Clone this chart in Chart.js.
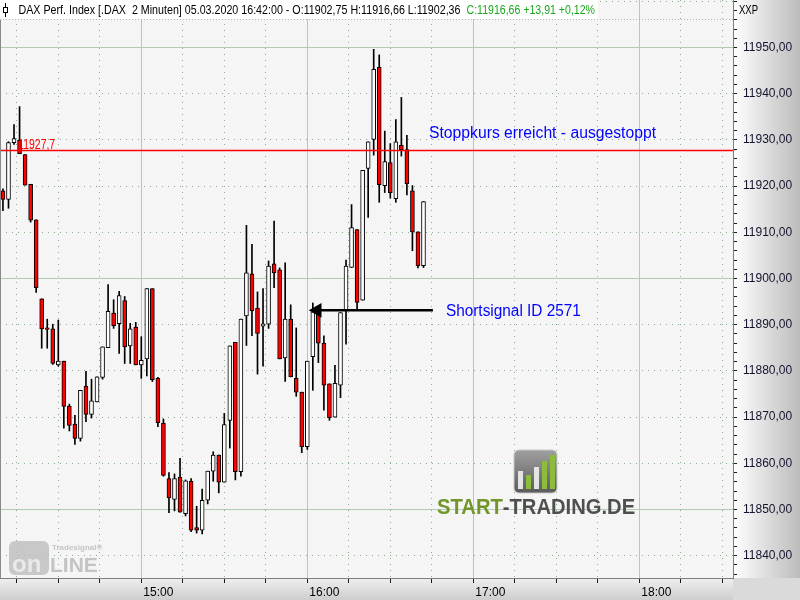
<!DOCTYPE html>
<html lang="de">
<head>
<meta charset="UTF-8">
<title>DAX Perf. Index - 2 Minuten</title>
<script src="https://cdn.jsdelivr.net/npm/chart.js"></script>
<style>
  html, body { margin: 0; padding: 0; background: #f5f5f5; }
  #wrap { width: 800px; height: 600px; }
</style>
</head>
<body>
<div id="wrap"><canvas id="dax" width="800" height="600"></canvas></div>
<script>
// 2-Minuten-Kerzen DAX, 05.03.2020
const times = [
  '14:10','14:12','14:14','14:16','14:18','14:20','14:22','14:24','14:26','14:28',
  '14:30','14:32','14:34','14:36','14:38','14:40','14:42','14:44','14:46','14:48',
  '14:50','14:52','14:54','14:56','14:58','15:00','15:02','15:04','15:06','15:08',
  '15:10','15:12','15:14','15:16','15:18','15:20','15:22','15:24','15:26','15:28',
  '15:30','15:32','15:34','15:36','15:38','15:40','15:42','15:44','15:46','15:48',
  '15:50','15:52','15:54','15:56','15:58','16:00','16:02','16:04','16:06','16:08',
  '16:10','16:12','16:14','16:16','16:18','16:20','16:22','16:24','16:26','16:28',
  '16:30','16:32','16:34','16:36','16:38','16:40','16:42'
];
const opens = [
  11919.0, 11917.1, 11929.4, 11929.9, 11926.8, 11920.4, 11912.7, 11895.6, 11889.3, 11889.1,
  11881.3, 11882.1, 11872.4, 11868.5, 11865.4, 11876.7, 11870.6, 11873.3, 11878.6, 11885.0,
  11892.5, 11890.2, 11895.2, 11885.4, 11889.5, 11881.3, 11882.6, 11897.8, 11878.4, 11868.7,
  11856.7, 11852.2, 11857.0, 11849.1, 11856.1, 11846.1, 11845.5, 11852.0, 11858.3, 11861.8,
  11855.9, 11869.3, 11886.2, 11858.2, 11891.9, 11901.0, 11893.6, 11889.7, 11890.1, 11903.2,
  11901.9, 11882.8, 11891.2, 11878.4, 11875.4, 11863.6, 11883.1, 11892.7, 11886.0, 11877.2,
  11870.0, 11876.9, 11893.0, 11902.4, 11910.6, 11895.3, 11923.8, 11930.1, 11945.7, 11920.1,
  11925.1, 11917.3, 11928.8, 11927.9, 11919.0, 11910.1, 11902.75
];
const highs = [
  11919.4, 11929.6, 11933.3, 11937.2, 11926.8, 11920.4, 11912.7, 11895.6, 11891.2, 11890.1,
  11891.0, 11882.1, 11872.8, 11870.4, 11875.8, 11879.9, 11878.2, 11878.7, 11885.2, 11898.7,
  11895.4, 11897.2, 11896.1, 11890.3, 11890.5, 11887.4, 11897.8, 11897.8, 11878.6, 11869.6,
  11858.0, 11857.7, 11861.1, 11856.4, 11856.7, 11850.7, 11854.4, 11858.3, 11862.5, 11861.8,
  11870.8, 11885.4, 11886.2, 11891.2, 11911.5, 11907.4, 11897.1, 11897.8, 11903.8, 11912.4,
  11902.3, 11903.4, 11894.3, 11889.3, 11875.4, 11882.1, 11894.7, 11892.7, 11887.6, 11877.2,
  11881.2, 11892.6, 11904.0, 11916.0, 11910.6, 11923.4, 11929.6, 11949.6, 11948.4, 11931.9,
  11929.2, 11934.4, 11939.2, 11931.0, 11920.1, 11910.1, 11916.66
];
const lows = [
  11914.7, 11915.2, 11929.0, 11927.0, 11920.2, 11912.2, 11897.0, 11884.9, 11884.9, 11881.4,
  11881.0, 11867.6, 11867.0, 11864.1, 11864.8, 11869.0, 11869.8, 11873.3, 11878.2, 11885.0,
  11889.2, 11883.8, 11881.6, 11881.6, 11881.3, 11878.4, 11878.9, 11877.7, 11867.9, 11857.2,
  11849.3, 11849.7, 11849.4, 11848.6, 11845.2, 11844.9, 11844.7, 11851.2, 11856.1, 11853.6,
  11855.9, 11863.3, 11856.4, 11857.2, 11885.5, 11887.6, 11879.3, 11881.0, 11889.2, 11898.0,
  11882.6, 11877.7, 11878.7, 11874.5, 11862.3, 11863.0, 11875.8, 11881.8, 11871.5, 11869.3,
  11870.0, 11874.2, 11885.8, 11902.4, 11893.4, 11895.3, 11913.2, 11926.7, 11916.5, 11918.6,
  11917.4, 11916.5, 11926.5, 11918.1, 11906.0, 11902.3, 11902.36
];
const closes = [
  11917.1, 11929.4, 11930.3, 11927.0, 11920.2, 11912.6, 11898.0, 11889.1, 11889.0, 11881.6,
  11882.1, 11872.3, 11868.2, 11865.4, 11875.8, 11870.6, 11873.5, 11878.7, 11885.2, 11892.9,
  11889.8, 11896.3, 11885.2, 11889.1, 11881.3, 11882.3, 11897.8, 11878.1, 11868.8, 11857.4,
  11852.5, 11856.7, 11849.4, 11856.2, 11845.5, 11845.5, 11852.0, 11858.3, 11861.8, 11855.9,
  11868.4, 11885.4, 11858.2, 11891.2, 11901.2, 11893.0, 11888.1, 11890.2, 11902.7, 11901.2,
  11882.6, 11891.2, 11878.7, 11875.4, 11863.6, 11882.1, 11892.8, 11886.0, 11876.9, 11869.9,
  11877.3, 11892.6, 11902.7, 11911.0, 11894.8, 11923.4, 11929.6, 11945.3, 11920.3, 11925.3,
  11918.6, 11929.6, 11927.9, 11920.5, 11910.1, 11902.7, 11916.66
];
const hourLabels = ['15:00', '16:00', '17:00', '18:00'];
const priceLabels = [11840, 11850, 11860, 11870, 11880, 11890, 11900, 11910, 11920, 11930, 11940, 11950];

// Stopp-Linie und Signalpfeil (Zeit in Minuten ab Mitternacht)
const stopLevel = 11927.7;
const signalPrice = 11893.1;
const signalHead = 963.6;   // Pfeilspitze
const signalTail = 1005.4;
const notes = [
  { text: 'Stoppkurs erreicht - ausgestoppt', time: 1004.0, price: 11930.4, width: 227 },
  { text: 'Shortsignal ID 2571', time: 1010.1, price: 11891.9, width: 135 }
];

// sichtbarer Bereich
const xMin = 848.93, xMax = 1113.87;
const yMin = 11835.17, yMax = 11960.28;

const toMin = s => { const p = s.split(':'); return +p[0] * 60 + +p[1]; };
const tMin = times.map(toMin);
const fmt = v => v.toFixed(2).replace('.', ',');
const FONT = "'Liberation Sans', Arial, sans-serif";

function fitText(c, txt, x, y, font, color, width, baseline) {
  c.save();
  c.font = font;
  c.fillStyle = color;
  c.textAlign = 'left';
  c.textBaseline = baseline || 'middle';
  const w = c.measureText(txt).width;
  const k = width ? width / w : 1;
  c.translate(x, y);
  c.scale(k, 1);
  c.fillText(txt, 0, 0);
  c.restore();
  return w * k;
}

function drawLogos(c) {
  // START-TRADING.DE
  c.save();
  const g = c.createLinearGradient(0, 450, 0, 493);
  g.addColorStop(0, '#a0a0a0');
  g.addColorStop(1, '#5a5a5a');
  c.fillStyle = g;
  c.beginPath();
  c.roundRect(514, 450, 43, 43, 5);
  c.fill();
  c.strokeStyle = '#c8c8c8';
  c.lineWidth = 1;
  c.stroke();
  const bars = [[518, 18, '#e4e4e4'], [526, 14, '#8dbb3a'], [534, 22, '#e4e4e4'], [542, 28, '#8dbb3a'], [550, 34, '#8dbb3a']];
  bars.forEach(b => { c.fillStyle = b[2]; c.fillRect(b[0], 489 - b[1], 5, b[1]); });
  c.font = 'bold 22px ' + FONT;
  const full = c.measureText('START-TRADING.DE').width;
  const k = 197 / full;
  c.translate(437, 514);
  c.scale(k, 1);
  c.textBaseline = 'alphabetic';
  c.fillStyle = '#72962a';
  c.fillText('START', 0, 0);
  const ws = c.measureText('START').width;
  c.fillStyle = '#4f4f4f';
  c.fillText('-TRADING.DE', ws, 0);
  c.restore();

  // Tradesignal online
  c.save();
  c.globalAlpha = 0.8;
  c.fillStyle = '#bdbdbd';
  c.beginPath();
  c.roundRect(9, 541, 40, 34, 6);
  c.fill();
  c.fillStyle = '#f2f2f2';
  c.font = 'bold 24px ' + FONT;
  c.textBaseline = 'alphabetic';
  c.fillText('on', 12, 572);
  c.fillStyle = '#b8b8b8';
  c.font = 'bold 21px ' + FONT;
  c.fillText('LINE', 50, 572);
  c.font = 'bold 8px ' + FONT;
  c.fillText('Tradesignal\u00AE', 52, 550);
  c.restore();
}

const chrome = {
  id: 'chrome',
  beforeDraw(chart) {
    const c = chart.ctx, a = chart.chartArea;
    c.save();
    c.fillStyle = '#f5f5f5';
    c.fillRect(0, 0, 800, 600);
    let g = c.createLinearGradient(a.right, 0, 800, 0);
    g.addColorStop(0, '#ffffff');
    g.addColorStop(1, '#bcbcbc');
    c.fillStyle = g;
    c.fillRect(a.right, 0, 800 - a.right, a.bottom);
    g = c.createLinearGradient(0, a.bottom, 0, 600);
    g.addColorStop(0, '#f0f0f0');
    g.addColorStop(1, '#cdcdcd');
    c.fillStyle = g;
    c.fillRect(0, a.bottom, a.right, 600 - a.bottom);
    c.fillStyle = '#dadada';
    c.fillRect(a.right, a.bottom, 800 - a.right, 600 - a.bottom);
    c.restore();
  },
  beforeDatasetsDraw(chart) {
    drawLogos(chart.ctx);
  },
  afterDraw(chart) {
    const c = chart.ctx, a = chart.chartArea;
    const sx = chart.scales.x, sy = chart.scales.y;
    const last = times.length - 1;

    // Kopfzeile
    c.save();
    c.fillStyle = '#ffffff';
    c.fillRect(0, 0, 598, 19);
    c.strokeStyle = '#b4b4b4';
    c.setLineDash([1, 2]);
    c.beginPath(); c.moveTo(0, 19.5); c.lineTo(a.right, 19.5); c.stroke();
    c.setLineDash([]);
    c.strokeStyle = '#000';
    c.beginPath(); c.moveTo(5.5, 3); c.lineTo(5.5, 17); c.stroke();
    c.fillStyle = '#fff';
    c.fillRect(3.5, 7.5, 4, 5);
    c.strokeRect(3.5, 7.5, 4, 5);
    // linker Rand
    c.strokeStyle = '#8a8a8a';
    c.beginPath(); c.moveTo(0.5, 20); c.lineTo(0.5, a.bottom); c.stroke();
    c.restore();

    const head = 'DAX Perf. Index [.DAX  2 Minuten] 05.03.2020 ' + times[last] + ':00 - O:' + fmt(opens[last]) +
      ' H:' + fmt(highs[last]) + ' L:' + fmt(lows[last]);
    const chg = 'C:' + fmt(closes[last]) + ' +13,91 +0,12%';
    fitText(c, head, 18.5, 10, '13px ' + FONT, '#000', 442);
    fitText(c, chg, 466.5, 10, '13px ' + FONT, '#1ca81c', 128.5);
    fitText(c, 'XXP', 739, 10, '13px ' + FONT, '#000', 19);

    // Stopp-Beschriftung
    fitText(c, '11927,7', sx.getPixelForValue(855.5), sy.getPixelForValue(stopLevel) - 1.5,
      '14px ' + FONT, '#ff0000', 37, 'alphabetic');

    notes.forEach(n => {
      fitText(c, n.text, sx.getPixelForValue(n.time), sy.getPixelForValue(n.price),
        '16px ' + FONT, '#0000ff', n.width, 'alphabetic');
    });
  }
};

const noPad = s => { s.paddingTop = 0; s.paddingBottom = 0; s.paddingLeft = 0; s.paddingRight = 0; };

new Chart(document.getElementById('dax'), {
  type: 'bar',
  data: {
    datasets: [
      {
        type: 'line',
        label: 'Stopp',
        data: [{ x: xMin, y: stopLevel }, { x: xMax, y: stopLevel }],
        borderColor: '#ff0000',
        borderWidth: 1.5,
        pointRadius: 0,
        order: 0
      },
      {
        type: 'line',
        label: 'Shortsignal',
        data: [{ x: signalHead, y: signalPrice }, { x: signalTail, y: signalPrice }],
        borderColor: '#000000',
        borderWidth: 2.5,
        pointRadius: [6, 0],
        pointStyle: 'triangle',
        pointRotation: -90,
        pointBackgroundColor: '#000000',
        pointBorderColor: '#000000',
        order: 0
      },
      {
        label: 'Körper',
        data: tMin.map((t, i) => ({ x: t, y: [opens[i], closes[i]] })),
        backgroundColor: opens.map((o, i) => closes[i] >= o ? '#ffffff' : '#ff0000'),
        borderColor: '#000000',
        borderWidth: 1,
        borderSkipped: false,
        barThickness: 4,
        grouped: false,
        order: 1
      },
      {
        label: 'Docht',
        data: tMin.map((t, i) => ({ x: t, y: [lows[i], highs[i]] })),
        backgroundColor: '#000000',
        borderWidth: 0,
        barThickness: 1,
        grouped: false,
        order: 2
      }
    ]
  },
  options: {
    responsive: false,
    animation: false,
    events: [],
    layout: { padding: 0, autoPadding: false },
    plugins: { legend: { display: false }, tooltip: { enabled: false } },
    scales: {
      x: {
        type: 'linear',
        position: 'bottom',
        min: xMin,
        max: xMax,
        offset: false,
        weight: 1,
        afterFit: s => { s.height = 22; noPad(s); },
        grid: { offset: false, color: '#8fab8f', tickColor: '#1a1a1a', tickLength: 5 },
        border: { display: true, color: '#7d7d7d', width: 1, dash: [1, 5] },
        ticks: {
          stepSize: 15,
          includeBounds: false,
          autoSkip: false,
          maxRotation: 0,
          minRotation: 0,
          align: 'start',
          labelOffset: 2,
          padding: 2,
          color: '#000',
          font: { family: FONT, size: 12 },
          callback: v => {
            const s = Math.floor(v / 60) + ':' + String(Math.round(v % 60)).padStart(2, '0');
            return hourLabels.includes(s) ? s : '';
          }
        }
      },
      xh: {
        type: 'linear',
        position: 'bottom',
        min: xMin,
        max: xMax,
        offset: false,
        weight: 0,
        afterFit: s => { s.height = 0; noPad(s); },
        grid: { offset: false, color: '#b3cab3', drawTicks: false },
        border: { display: false },
        ticks: { stepSize: 60, includeBounds: false, display: false }
      },
      y: {
        type: 'linear',
        position: 'right',
        min: yMin,
        max: yMax,
        weight: 1,
        afterFit: s => { s.width = 67; noPad(s); },
        grid: {
          color: c => (c.tick && Math.round(c.tick.value) % 10 === 0) ? '#8fab8f' : 'rgba(0,0,0,0)',
          tickColor: '#1a1a1a',
          tickLength: 4
        },
        border: { display: true, color: '#7d7d7d', width: 1, dash: [1, 5] },
        ticks: {
          stepSize: 2,
          includeBounds: false,
          autoSkip: false,
          padding: 6,
          color: '#14142e',
          font: { family: FONT, size: 12 },
          callback: v => priceLabels.includes(Math.round(v)) ? fmt(Math.round(v)) : ''
        }
      },
      yh: {
        type: 'linear',
        position: 'right',
        min: yMin,
        max: yMax,
        weight: 0,
        afterFit: s => { s.width = 0; noPad(s); },
        grid: { color: '#b3cab3', drawTicks: false },
        border: { display: false },
        ticks: { stepSize: 50, includeBounds: false, display: false }
      }
    }
  },
  plugins: [chrome]
});
</script>
</body>
</html>
